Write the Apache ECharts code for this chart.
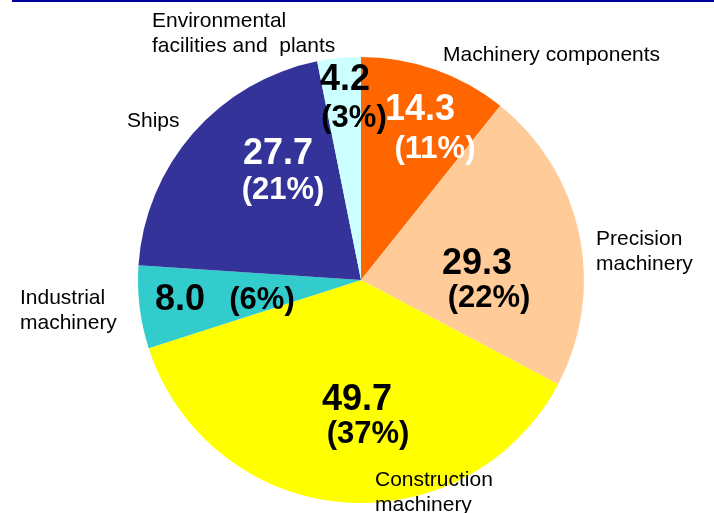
<!DOCTYPE html>
<html>
<head>
<meta charset="utf-8">
<script src="https://cdn.jsdelivr.net/npm/echarts@6/dist/echarts.min.js"></script>
<style>
  html, body { margin: 0; padding: 0; background: #fff; }
  #main { width: 714px; height: 513px; }
</style>
</head>
<body>
<div id="main"></div>
<script>
// slices, clockwise from 12 o'clock
var names = ['Machinery components', 'Precision machinery', 'Construction machinery',
  'Industrial machinery', 'Ships', 'Environmental facilities and plants'];
var values = [14.3, 29.3, 49.7, 8.0, 27.7, 4.2];
var shares = ['11%', '22%', '37%', '6%', '21%', '3%'];
var colours = ['#ff6600', '#ffcc99', '#ffff00', '#33cccc', '#333399', '#ccffff'];

var chart = echarts.init(document.getElementById('main'));

var font = 'Liberation Sans, Arial, sans-serif';

// name labels: [text, left x, centre y of first line]
var nameLabels = [
  ['Environmental\nfacilities and  plants', 152, 21],
  ['Machinery components', 443, 55],
  ['Precision\nmachinery', 596, 239],
  ['Industrial\nmachinery', 20, 298],
  ['Construction\nmachinery', 375, 480],
  ['Ships', 127, 121]
];
// value labels: [text, cx, cy, size, colour]
var valueLabels = [
  [values[5].toFixed(1), 345, 80, 36, '#000'],
  ['(' + shares[5] + ')', 354, 118, 31, '#000'],
  [values[0].toFixed(1), 420, 110, 36, '#fff'],
  ['(' + shares[0] + ')', 435, 149, 31, '#fff'],
  [values[4].toFixed(1), 278, 154, 36, '#fff'],
  ['(' + shares[4] + ')', 283, 190, 31, '#fff'],
  [values[1].toFixed(1), 477, 264, 36, '#000'],
  ['(' + shares[1] + ')', 489, 298, 31, '#000'],
  [values[3].toFixed(1), 180, 300, 36, '#000'],
  ['(' + shares[3] + ')', 262, 300, 31, '#000'],
  [values[2].toFixed(1), 357, 400, 36, '#000'],
  ['(' + shares[2] + ')', 368, 434, 31, '#000']
];

var graphics = [{
  type: 'rect',
  shape: { x: 12, y: 0, width: 702, height: 2 },
  style: { fill: '#000099' }
}];
nameLabels.forEach(function (n) {
  graphics.push({
    type: 'text', x: n[1], y: n[2] - 12.5, z: 10,
    style: { text: n[0], font: '21px ' + font, fill: '#000', lineHeight: 25,
      textVerticalAlign: 'top' }
  });
});
valueLabels.forEach(function (v) {
  graphics.push({
    type: 'text', x: v[1], y: v[2], z: 10,
    style: { text: v[0], font: 'bold ' + v[3] + 'px ' + font, fill: v[4],
      textAlign: 'center', textVerticalAlign: 'middle' }
  });
});

chart.setOption({
  animation: false,
  backgroundColor: '#fff',
  graphic: graphics,
  series: [{
    type: 'pie',
    center: [361, 280],
    radius: [0, 223],
    startAngle: 90,
    clockwise: true,
    label: { show: false },
    labelLine: { show: false },
    itemStyle: { borderWidth: 0 },
    emphasis: { disabled: true },
    data: names.map(function (n, i) {
      return { name: n, value: values[i], itemStyle: { color: colours[i] } };
    })
  }]
});
</script>
</body>
</html>
